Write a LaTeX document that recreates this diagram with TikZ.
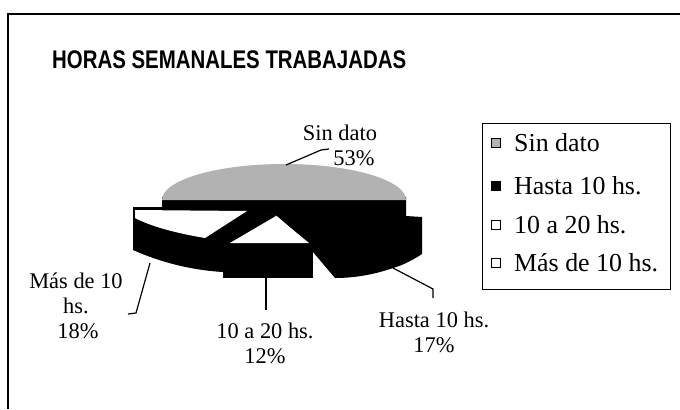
\documentclass[tikz,border=0pt]{standalone}
\usepackage{fontspec}
\setmainfont{Liberation Serif}
\newfontfamily\titlefont{Liberation Sans}
\begin{document}
\begin{tikzpicture}[x=1bp,y=-1bp,
  lbl/.style={font=\fontsize{22.5}{26}\selectfont, inner sep=0pt, align=center},
  leg/.style={font=\fontsize{26}{30}\selectfont, inner sep=0pt, anchor=west},
  mk/.style={draw, line width=0.8pt, minimum size=9bp, inner sep=0pt},
  leader/.style={line width=1.2pt},
  stip/.style={fill=black!30},
  frame/.style={line width=1.3pt}]
\useasboundingbox (0,0) rectangle (680,409);
\fill[white] (0,0) rectangle (680,409);
\draw[frame] (680,14) -- (8,14) -- (8,409);
\node[font=\titlefont\bfseries\fontsize{20.5}{24}\selectfont, anchor=west, inner sep=0pt] (title) at (52,60) {\scalebox{1}[1.25]{HORAS SEMANALES TRABAJADAS}};
% --- pie ---
% Hasta 10 hs. (black) and back wall
\fill (162,197) -- (406,197) -- (406,216) -- (422,217) -- (422,254)
  .. controls (410,262) and (400,266) .. (393,268)
  .. controls (370,276) and (350,278) .. (335,278)
  -- (313,252) -- (308,243) -- (277,216) -- (250,208) -- (162,208) -- cycle;
% Sin dato top
\fill[stip] (162,200) arc[start angle=180, end angle=360, x radius=122, y radius=36] -- cycle;
% Mas de 10 hs.
\fill (133,207) -- (250,207) -- (277,216) -- (230,243) -- (223,243) -- (223,272)
  .. controls (190,270) and (160,262) .. (133,250) -- cycle;
\fill[white] (135,210) -- (247,211) -- (205,238) .. controls (175,233) and (150,226) .. (135,218) -- cycle;
% 10 a 20 hs.
\fill (223,243) rectangle (313,278);
\fill[white] (276,216) -- (309,243) -- (230,243) -- cycle;
% --- labels ---
\node[lbl] (lSin) at (340,133) {Sin dato};
\node[lbl] (lSinP) at (354,158) {53\%};
\node[lbl] (lHas) at (434,320) {Hasta 10 hs.};
\node[lbl] (lHasP) at (434,345) {17\%};
\node[lbl] (lDie) at (265,331) {10 a 20 hs.};
\node[lbl] (lDieP) at (265,356) {12\%};
\node[lbl] (lMas) at (76,281) {Más de 10};
\node[lbl] (lMasH) at (76,306) {hs.};
\node[lbl] (lMasP) at (78,331) {18\%};
% --- leaders ---
\coordinate (pSin) at (286,165); \coordinate (kSin) at (321,150); \coordinate (eSin) at (329,149);
\draw[leader] (pSin) -- (kSin) -- (eSin);
\coordinate (pHas) at (393,268); \coordinate (kHas) at (433,289); \coordinate (eHas) at (433,298);
\draw[leader] (pHas) -- (kHas) -- (eHas);
\coordinate (pDie) at (266,278); \coordinate (eDie) at (266,310);
\draw[leader] (pDie) -- (eDie);
\coordinate (pMas) at (150,263); \coordinate (kMas) at (136,313); \coordinate (eMas) at (128,314);
\draw[leader] (pMas) -- (kMas) -- (eMas);
% --- legend ---
\node[draw, frame, minimum width=188bp, minimum height=166bp, anchor=north west, inner sep=0pt] (legend) at (482,123) {};
\node[mk, fill=black!30] (m1) at (496,143) {};
\node[leg] (t1) at (514,143) {Sin dato};
\node[mk, fill=black] (m2) at (496,186) {};
\node[leg] (t2) at (514,186) {Hasta 10 hs.};
\node[mk, fill=white] (m3) at (496,225) {};
\node[leg] (t3) at (514,225) {10 a 20 hs.};
\node[mk, fill=white] (m4) at (496,263) {};
\node[leg] (t4) at (514,263) {Más de 10 hs.};
\end{tikzpicture}
\end{document}
